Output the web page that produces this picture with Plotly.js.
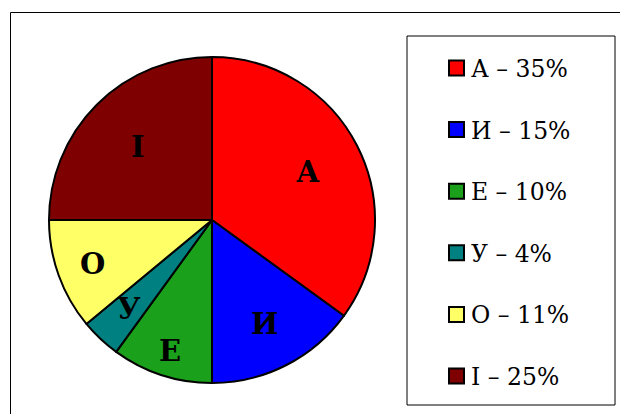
<!DOCTYPE html>
<html>
<head>
<meta charset="utf-8">
<script src="https://cdn.plot.ly/plotly-3.0.1.min.js"></script>
<style>html,body{margin:0;padding:0;background:#fff;}#chart{width:620px;height:414px;}</style>
</head>
<body>
<div id="chart"></div>
<script>
var labels = ["А", "И", "Е", "У", "О", "І"];
var values = [35, 15, 10, 4, 11, 25];
var colors = ["#ff0000", "#0000ff", "#1aa01a", "#008080", "#ffff66", "#7f0000"];

// label placement (fraction of radius from centre), layout only
var labelRadius = [0.66, 0.71, 0.84, 0.74, 0.78, 0.64];

var SERIF = "DejaVu Serif, serif";
var W = 620, H = 414;
function px(x) { return x / W; }
function py(y) { return 1 - y / H; }

var cx = 212, cy = 220, r = 163;

var trace = {
  type: "pie",
  labels: labels,
  values: values,
  sort: false,
  direction: "clockwise",
  rotation: 0,
  marker: { colors: colors, line: { color: "#000", width: 2 } },
  textinfo: "none",
  hoverinfo: "none",
  showlegend: false,
  domain: { x: [px(cx - r), px(cx + r)], y: [py(cy + r), py(cy - r)] }
};

var shapes = [
  { type: "rect", xref: "paper", yref: "paper", x0: px(10.5), x1: 1.2, y0: -0.2, y1: py(12.5),
    line: { color: "#000", width: 1 } },
  { type: "rect", xref: "paper", yref: "paper", x0: px(407), x1: px(615), y0: py(405), y1: py(36),
    line: { color: "#000", width: 1 }, fillcolor: "rgba(0,0,0,0)" }
];
var annotations = [];

// slice labels at mid-angle of each slice
var total = values.reduce(function (a, b) { return a + b; }, 0);
var cum = 0;
for (var k = 0; k < values.length; k++) {
  var mid = (cum + values[k] / 2) / total * 2 * Math.PI;
  cum += values[k];
  var lx = cx + Math.sin(mid) * r * labelRadius[k];
  var ly = cy - Math.cos(mid) * r * labelRadius[k];
  annotations.push({ xref: "paper", yref: "paper", x: px(lx), y: py(ly + 1), xanchor: "center", yanchor: "middle",
    showarrow: false, text: "<b>" + labels[k] + "</b>",
    font: { family: SERIF, size: 29, color: "#000" } });
}

var rowY0 = 68, rowStep = 61.6;
for (var i = 0; i < labels.length; i++) {
  var yc = rowY0 + i * rowStep;
  shapes.push({ type: "rect", xref: "paper", yref: "paper",
    x0: px(449), x1: px(464), y0: py(yc + 7.5), y1: py(yc - 7.5),
    fillcolor: colors[i], line: { color: "#000", width: 2 } });
  annotations.push({ xref: "paper", yref: "paper", x: px(469), y: py(yc + 1), xanchor: "left", yanchor: "middle",
    showarrow: false, text: labels[i] + " – " + values[i] + "%",
    font: { family: SERIF, size: 23.5, color: "#000" } });
}

var layout = {
  width: W, height: H,
  margin: { l: 0, r: 0, t: 0, b: 0 },
  paper_bgcolor: "#fff",
  font: { family: SERIF },
  showlegend: false,
  shapes: shapes,
  annotations: annotations
};

Plotly.newPlot("chart", [trace], layout, { displayModeBar: false, staticPlot: true });
</script>
</body>
</html>
